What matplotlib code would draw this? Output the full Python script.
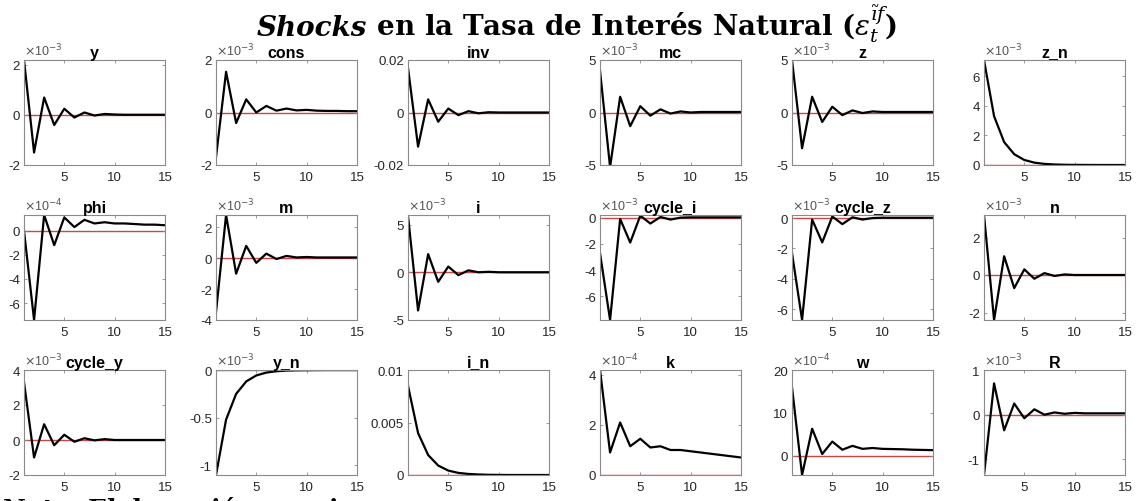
"""
Respuestas impulso ante un shock en la tasa de interés natural (3x6 paneles, estilo MATLAB).
"""
import matplotlib
matplotlib.use("Agg")
import matplotlib.pyplot as plt
import numpy as np

plt.rcParams["font.family"] = ["Liberation Sans", "DejaVu Sans"]
plt.rcParams["axes.unicode_minus"] = False

periods = np.arange(1, 16)

names = ["y", "cons", "inv", "mc", "z", "z_n",
         "phi", "m", "i", "cycle_i", "cycle_z", "n",
         "cycle_y", "y_n", "i_n", "k", "w", "R"]

# exponente del factor de escala mostrado (None = sin factor)
exponents = [-3, -3, None, -3, -3, -3,
             -4, -3, -3, -3, -3, -3,
             -3, -3, None, -4, -4, -3]

# valores, en las unidades de cada eje
irf_y = [2.2, -1.5, 0.7, -0.4, 0.25, -0.1, 0.1, -0.02, 0.04, 0.02, 0.01, 0.01, 0.01, 0.01, 0.01]
irf_cons = [-1.7, 1.55, -0.4, 0.5, 0.0, 0.25, 0.07, 0.15, 0.08, 0.1, 0.07, 0.06, 0.06, 0.05, 0.05]
irf_inv = [0.017, -0.013, 0.005, -0.0035, 0.0015, -0.001, 0.0005, -0.0003, 0.0001, 0.0, 0.0, 0.0, 0.0, 0.0, 0.0]
irf_mc = [4.0, -5.2, 1.5, -1.3, 0.6, -0.3, 0.3, -0.1, 0.1, 0.0, 0.05, 0.05, 0.05, 0.05, 0.05]
irf_z = [5.0, -3.4, 1.5, -0.9, 0.55, -0.25, 0.2, -0.05, 0.1, 0.05, 0.05, 0.05, 0.05, 0.05, 0.05]
irf_z_n = [7.1, 3.3, 1.55, 0.73, 0.34, 0.16, 0.075, 0.035, 0.016, 0.008, 0.004, 0.002, 0.001, 0.0, 0.0]
irf_phi = [0.0, -7.4, 1.3, -1.2, 1.1, 0.3, 0.9, 0.6, 0.7, 0.6, 0.6, 0.55, 0.5, 0.5, 0.45]
irf_m = [-3.5, 2.8, -1.0, 0.8, -0.3, 0.3, -0.05, 0.15, 0.05, 0.08, 0.05, 0.05, 0.05, 0.05, 0.05]
irf_i = [5.9, -4.0, 1.9, -1.0, 0.6, -0.3, 0.2, 0.0, 0.05, 0.0, 0.0, 0.0, 0.0, 0.0, 0.0]
irf_cycle_i = [-2.7, -7.8, -0.1, -1.9, 0.15, -0.45, 0.05, -0.15, 0.0, 0.02, 0.02, 0.02, 0.02, 0.02, 0.02]
irf_cycle_z = [-2.3, -6.7, -0.1, -1.6, 0.1, -0.4, 0.05, -0.1, 0.0, 0.02, 0.02, 0.02, 0.02, 0.02, 0.02]
irf_n = [3.2, -2.4, 1.0, -0.7, 0.3, -0.2, 0.1, -0.05, 0.03, 0.0, 0.0, 0.0, 0.0, 0.0, 0.0]
irf_cycle_y = [3.3, -1.0, 0.9, -0.3, 0.3, -0.1, 0.1, -0.02, 0.05, 0.0, 0.0, 0.0, 0.0, 0.0, 0.0]
irf_y_n = [-1.1, -0.52, -0.25, -0.12, -0.057, -0.027, -0.013, -0.006, -0.003, -0.0015, -0.0007, 0.0, 0.0, 0.0, 0.0]
irf_i_n = [0.0085, 0.004, 0.0019, 0.0009, 0.00042, 0.0002, 0.0001, 0.00005, 0.00002, 0.00001, 0.0, 0.0, 0.0, 0.0, 0.0]
irf_k = [4.2, 0.9, 2.1, 1.15, 1.45, 1.1, 1.15, 1.0, 1.0, 0.95, 0.9, 0.85, 0.8, 0.75, 0.7]
irf_w = [16.0, -4.5, 6.3, 0.4, 3.3, 1.4, 2.3, 1.6, 1.8, 1.6, 1.55, 1.5, 1.4, 1.35, 1.3]
irf_R = [-1.35, 0.7, -0.35, 0.25, -0.08, 0.12, 0.0, 0.05, 0.02, 0.04, 0.03, 0.03, 0.03, 0.03, 0.03]

series = [irf_y, irf_cons, irf_inv, irf_mc, irf_z, irf_z_n,
          irf_phi, irf_m, irf_i, irf_cycle_i, irf_cycle_z, irf_n,
          irf_cycle_y, irf_y_n, irf_i_n, irf_k, irf_w, irf_R]

ylims = [(-2, 2.2), (-2, 2), (-0.02, 0.02), (-5, 5), (-5, 5), (0, 7.1),
         (-7.4, 1.3), (-4, 2.8), (-5, 6), (-7.8, 0.2), (-6.7, 0.2), (-2.4, 3.2),
         (-2, 4), (-1.1, 0), (0, 0.01), (0, 4.2), (-4.5, 20), (-1.35, 1)]

yticks = [[-2, 0, 2], [-2, 0, 2], [-0.02, 0, 0.02], [-5, 0, 5], [-5, 0, 5], [0, 2, 4, 6],
          [-6, -4, -2, 0], [-4, -2, 0, 2], [-5, 0, 5], [-6, -4, -2, 0], [-6, -4, -2, 0], [-2, 0, 2],
          [-2, 0, 2, 4], [-1, -0.5, 0], [0, 0.005, 0.01], [0, 2, 4], [0, 10, 20], [-1, 0, 1]]

ytick_labels = [["-2", "0", "2"], ["-2", "0", "2"], ["-0.02", "0", "0.02"], ["-5", "0", "5"],
                ["-5", "0", "5"], ["0", "2", "4", "6"],
                ["-6", "-4", "-2", "0"], ["-4", "-2", "0", "2"], ["-5", "0", "5"],
                ["-6", "-4", "-2", "0"], ["-6", "-4", "-2", "0"], ["-2", "0", "2"],
                ["-2", "0", "2", "4"], ["-1", "-0.5", "0"], ["0", "0.005", "0.01"],
                ["0", "2", "4"], ["0", "10", "20"], ["-1", "0", "1"]]

xticks = [5, 10, 15]

W, H = 1141, 502
fig = plt.figure(figsize=(W / 100, H / 100), dpi=100)

col_left = [24 + 192 * c for c in range(6)]
row_top = [61, 216, 371]
ax_w, ax_h = 141, 105

for k, name in enumerate(names):
    r, c = divmod(k, 6)
    ax = fig.add_axes([col_left[c] / W, 1 - (row_top[r] + ax_h) / H, ax_w / W, ax_h / H])
    ax.axhline(0, color="#d04545", lw=1.0, zorder=1)
    ax.plot(periods, series[k], color="black", lw=1.6, zorder=2)
    ax.set_xlim(1, 15)
    ax.set_ylim(*ylims[k])
    ax.set_xticks(xticks)
    ax.set_xticklabels([str(t) for t in xticks])
    ax.set_yticks(yticks[k])
    ax.set_yticklabels(ytick_labels[k])
    ax.tick_params(direction="in", length=2.5, width=0.6, colors="#8a8a8a",
                   labelcolor="#262626", labelsize=9.5, top=True, right=True)
    ax.tick_params(axis="x", pad=4)
    ax.tick_params(axis="y", pad=3)
    for sp in ax.spines.values():
        sp.set_color("#8a8a8a")
        sp.set_linewidth(0.8)
    ax.set_title(name, fontsize=11.5, fontweight="bold", pad=2.5)
    if exponents[k] is not None:
        ax.text(0.0, 1.02, r"$\times$10$^{%d}$" % exponents[k], transform=ax.transAxes,
                ha="left", va="bottom", fontsize=9, color="#555555", math_fontfamily="dejavusans")

# título general: "Shocks" en cursiva y el resto en negrita, centrado sobre los paneles
renderer = fig.canvas.get_renderer()
title_base = 1 - 36 / H
t1 = fig.text(0, title_base, "Shocks", fontsize=20, fontweight="bold", fontstyle="italic",
              family="DejaVu Serif", ha="left", va="baseline")
t2 = fig.text(0, title_base,
              r" en la Tasa de Interés Natural ($\boldsymbol{\varepsilon_t^{\tilde{\imath}f}}$)",
              fontsize=20, fontweight="bold", family="DejaVu Serif", ha="left", va="baseline",
              math_fontfamily="dejavuserif")
w1 = t1.get_window_extent(renderer).width
w2 = t2.get_window_extent(renderer).width
x_start = 577 - (w1 + w2) / 2
t1.set_x(x_start / W)
t2.set_x((x_start + w1) / W)

fig.text(3 / W, 1 - 497 / H, "Nota: Elaboración propia.", fontsize=18, fontweight="bold",
         family="DejaVu Serif", ha="left", va="top")

fig.savefig("out.png", dpi=100)
